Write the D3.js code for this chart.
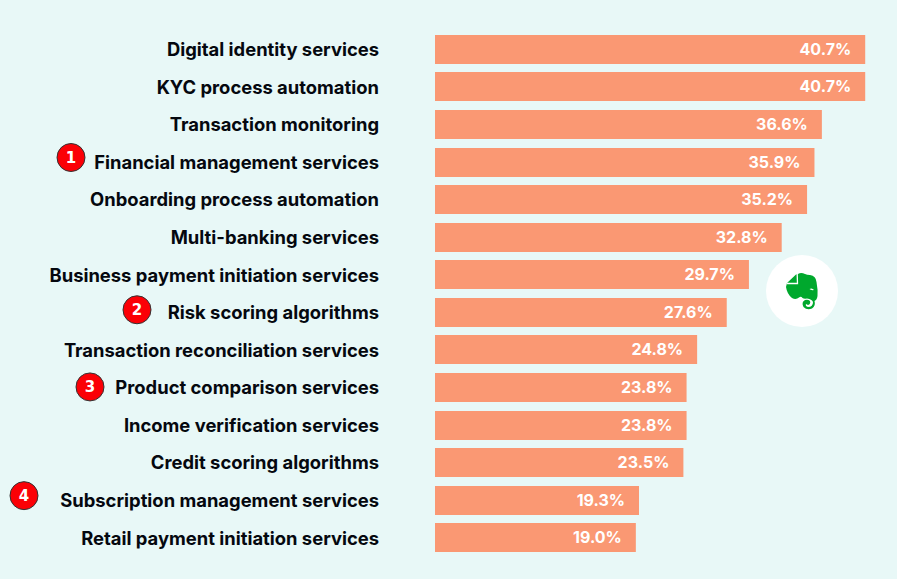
<!DOCTYPE html>
<html><head><meta charset="utf-8">
<script src="https://cdn.jsdelivr.net/npm/d3@7/dist/d3.min.js"></script>
<style>html,body{margin:0;padding:0;background:#e8f8f7;overflow:hidden}svg{display:block}</style>
</head><body><svg id="c" width="897" height="579"></svg>
<script>
const categories=["Digital identity services","KYC process automation","Transaction monitoring","Financial management services","Onboarding process automation","Multi-banking services","Business payment initiation services","Risk scoring algorithms","Transaction reconciliation services","Product comparison services","Income verification services","Credit scoring algorithms","Subscription management services","Retail payment initiation services"];
const values=[40.7,40.7,36.6,35.9,35.2,32.8,29.7,27.6,24.8,23.8,23.8,23.5,19.3,19.0];
const badgeCategories=["Financial management services","Risk scoring algorithms","Product comparison services","Subscription management services"];
const badgeLabels=["1","2","3","4"];
const badgeCx=[71,137,90,24];
const badgeDy=[-4.5,-2.5,-0.5,-4.5];
const font="Inter, sans-serif";
const svg=d3.select("#c");
const x=d3.scaleLinear().domain([0,40.7]).range([435,865.2]);
const y=d3.scaleBand().domain(categories).range([30.5,556.5]).paddingInner(0.23).paddingOuter(0.115);
svg.selectAll("rect.bar").data(categories).join("rect").attr("class","bar")
  .attr("x",x(0)).attr("y",d=>Math.round(y(d))).attr("height",29)
  .attr("width",(d,i)=>x(values[i])-x(0)).attr("fill","#fa9873");
svg.selectAll("text.val").data(categories).join("text").attr("class","val")
  .attr("x",(d,i)=>x(values[i])-14).attr("y",d=>y(d)+y.bandwidth()/2+5.5)
  .attr("text-anchor","end").attr("fill","#fff").attr("font-family",font).attr("font-weight",700).attr("font-size",16)
  .text((d,i)=>values[i].toFixed(1)+"%");
svg.selectAll("text.cat").data(categories).join("text").attr("class","cat")
  .attr("x",379).attr("y",d=>y(d)+y.bandwidth()/2+6.8)
  .attr("text-anchor","end").attr("fill","#05080f").attr("font-family",font).attr("font-weight",700).attr("font-size",18.4)
  .text(d=>d);
const b=svg.selectAll("g.badge").data(badgeCategories).join("g").attr("class","badge")
  .attr("transform",(d,i)=>`translate(${badgeCx[i]},${y(d)+y.bandwidth()/2+badgeDy[i]})`);
b.append("circle").attr("r",14).attr("fill","#fb0006").attr("stroke","#333").attr("stroke-width",1);
b.append("text").attr("text-anchor","middle").attr("y",5.5).attr("fill","#fff").attr("font-family","DejaVu Sans, sans-serif").attr("font-weight",700).attr("font-size",15).text((d,i)=>badgeLabels[i]);
// Evernote logo
const g=svg.append("g").attr("transform","translate(802,291)");
g.append("circle").attr("r",36).attr("fill","#fff");
g.append("path").attr("fill","#00a82d").attr("d","M-15,-8 L-6,-16.5 L-4,-17 Q-1,-19 3,-17 Q5,-16 8,-16 Q14,-15 14.5,-9 Q16,-1 15.5,5 Q15,9 12.5,10 Q14,15 10,17.5 Q5,19.5 1.5,16 Q-1,11 3,9 Q6,8 8,10 Q9,13 6,14 L4,13 Q3,15 6,16 Q11,16 11,11 Q10,8 5,7.5 Q2,8 0.5,7 Q-1,5 -3,6.5 Q-6,9 -10,7 Q-15,3 -16,-4 Z");
g.append("path").attr("fill","none").attr("stroke","#fff").attr("stroke-width",1.3).attr("d","M-4.8,-17 L-4.5,-7.5 L-15,-7.5");
g.append("path").attr("fill","#fff").attr("d","M7.5,-2 Q10,-3.5 12,-1 Q9,-0.5 7.5,-2Z");
</script></body></html>
